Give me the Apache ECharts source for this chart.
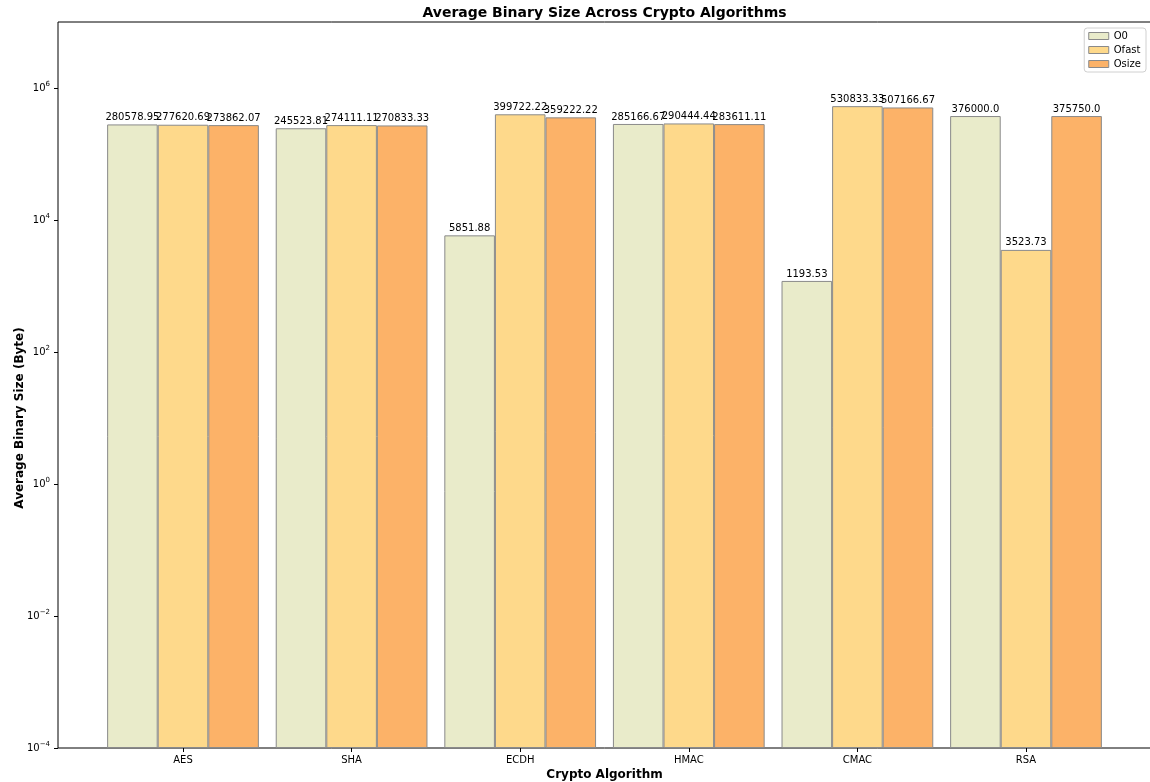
<!DOCTYPE html>
<html>
<head>
<meta charset="utf-8">
<script src="https://cdn.jsdelivr.net/npm/echarts@6/dist/echarts.min.js"></script>
<style>
  html, body { margin: 0; padding: 0; background: #fff; }
  #chart { width: 1150px; height: 782px; }
</style>
</head>
<body>
<div id="chart"></div>
<script>
// Average binary size per algorithm and optimisation level
const categories = ['AES', 'SHA', 'ECDH', 'HMAC', 'CMAC', 'RSA'];
const seriesNames = ['O0', 'Ofast', 'Osize'];
const o0Values    = [280578.95, 245523.81, 5851.88, 285166.67, 1193.53, 376000.0];
const ofastValues = [277620.69, 274111.11, 399722.22, 290444.44, 530833.33, 3523.73];
const osizeValues = [273862.07, 270833.33, 359222.22, 283611.11, 507166.67, 375750.0];
// y range in decades (10^-4 .. 10^7), labelled every second decade
const yMinExp = -4;
const yMaxExp = 7;
const yLabelMaxExp = 6;
const yTickStep = 2;

const FONT = 'DejaVu Sans';
const colors = ['#e9ebca', '#fed98b', '#fcb268'];

// Python-style str() of a float rounded to two decimals
function fmt(v) {
  return Number.isInteger(v) ? v.toFixed(1) : String(v);
}

function supLabel(e) {
  const s = e < 0 ? '\u2212' + Math.abs(e) : String(e);
  return '{b|10}{s|' + s + '}';
}

const chart = echarts.init(document.getElementById('chart'), null, { renderer: 'canvas' });

const valueArrays = [o0Values, ofastValues, osizeValues];

// Bars use decades above 10^yMinExp on a linear axis, so they rise from the bottom of the log range
const option = {
  animation: false,
  backgroundColor: '#fff',
  textStyle: { fontFamily: FONT },
  title: {
    text: 'Average Binary Size Across Crypto Algorithms',
    left: 604.5,
    textAlign: 'center',
    top: 6,
    padding: 0,
    textStyle: { fontFamily: FONT, fontSize: 14, fontWeight: 'bold', color: '#000' }
  },
  legend: {
    data: seriesNames,
    orient: 'vertical',
    right: 4,
    top: 28,
    icon: 'rect',
    itemWidth: 20,
    itemHeight: 7,
    itemGap: 4,
    padding: [3, 5, 3, 4],
    backgroundColor: '#fff',
    borderColor: '#d0d0d0',
    borderWidth: 1,
    borderRadius: 3,
    itemStyle: { borderWidth: 1, borderColor: '#8a8a8a' },
    textStyle: { fontFamily: FONT, fontSize: 10, color: '#000' }
  },
  grid: [
    // frame with box border
    { left: 58, top: 22, width: 1094, bottom: 34, outerBoundsMode: 'none', containLabel: false,
      show: true, borderColor: '#000', borderWidth: 1, backgroundColor: 'transparent' },
    // category bands for the bars
    { left: 98.7, top: 22, width: 1011.6, bottom: 34, outerBoundsMode: 'none', containLabel: false },
    // labelled y axis (10^-4 .. 10^6)
    { left: 58, top: 88, width: 1094, bottom: 34, outerBoundsMode: 'none', containLabel: false }
  ],
  xAxis: [
    { gridIndex: 0, type: 'value', min: 0, max: 1, show: false },
    {
      gridIndex: 1,
      type: 'category',
      data: categories,
      name: 'Crypto Algorithm',
      nameLocation: 'middle',
      nameGap: 21,
      nameMoveOverlap: false,
      nameTextStyle: { fontFamily: FONT, fontSize: 12, fontWeight: 'bold', color: '#000' },
      axisLine: { show: false, onZero: false },
      axisTick: { show: true, alignWithLabel: true, length: 4, lineStyle: { color: '#000' } },
      axisLabel: { fontFamily: FONT, fontSize: 10, color: '#000', margin: 7 },
      splitLine: { show: false }
    },
    { gridIndex: 2, type: 'value', min: 0, max: 1, show: false }
  ],
  yAxis: [
    { gridIndex: 0, type: 'value', min: 0, max: 1, show: false },
    { gridIndex: 1, type: 'value', min: 0, max: yMaxExp - yMinExp, show: false, splitLine: { show: false } },
    {
      gridIndex: 2,
      type: 'value',
      min: yMinExp,
      max: yLabelMaxExp,
      interval: yTickStep,
      name: 'Average Binary Size (Byte)',
      nameLocation: 'middle',
      nameGap: 32,
      nameMoveOverlap: false,
      nameTextStyle: { fontFamily: FONT, fontSize: 12, fontWeight: 'bold', color: '#000' },
      axisLine: { show: false, onZero: false },
      axisTick: { show: true, length: 4, lineStyle: { color: '#000' } },
      axisLabel: {
        fontFamily: FONT, color: '#000', margin: 8,
        formatter: supLabel,
        rich: {
          b: { fontFamily: FONT, fontSize: 10, color: '#000' },
          s: { fontFamily: FONT, fontSize: 7, color: '#000', padding: [0, 0, 7, 0] }
        }
      },
      splitLine: { show: false }
    }
  ],
  series: seriesNames.map(function (name, i) {
    const raw = valueArrays[i];
    return {
      name: name,
      type: 'bar',
      xAxisIndex: 1,
      yAxisIndex: 1,
      data: raw.map(function (v) { return Math.log10(v) - yMinExp; }),
      barGap: '0%',
      barCategoryGap: '10%',
      itemStyle: { color: colors[i], borderColor: '#8a8a8a', borderWidth: 1 },
      label: {
        show: true,
        position: 'top',
        distance: 2,
        fontFamily: FONT,
        fontSize: 10,
        color: '#000',
        formatter: function (p) { return fmt(raw[p.dataIndex]); }
      }
    };
  })
};

chart.setOption(option);
</script>
</body>
</html>
